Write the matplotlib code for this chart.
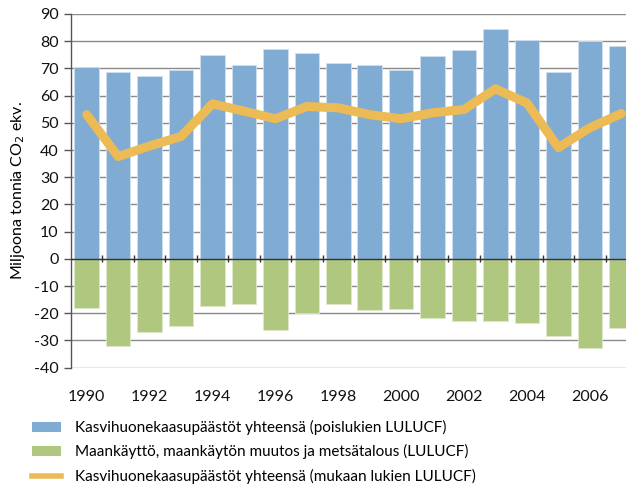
import matplotlib
matplotlib.use("Agg")
import matplotlib.pyplot as plt
import numpy as np
from matplotlib.patches import Patch
from matplotlib.lines import Line2D

years = list(range(1990, 2008))
emissions_excl = [70.7, 68.7, 67.3, 69.3, 74.8, 71.3, 77.2, 75.6, 72.0, 71.2,
                  69.5, 74.6, 76.8, 84.5, 80.5, 68.7, 79.9, 78.4]
lulucf = [-18.0, -32.1, -26.8, -24.5, -17.5, -16.7, -26.1, -19.8, -16.7, -18.8,
          -18.5, -21.7, -22.9, -22.9, -23.5, -28.5, -32.6, -25.4]
emissions_incl = [53.0, 37.6, 41.5, 45.0, 57.0, 54.3, 51.5, 56.0, 55.5, 53.0,
                  51.5, 53.7, 54.9, 62.5, 57.3, 40.9, 48.2, 53.4]
yticks = list(range(-40, 100, 10))
xtick_years = list(range(1990, 2007, 2))
labels = ["Kasvihuonekaasupäästöt yhteensä (poislukien LULUCF)",
          "Maankäyttö, maankäytön muutos ja metsätalous (LULUCF)",
          "Kasvihuonekaasupäästöt yhteensä (mukaan lukien LULUCF)"]

blue = "#80ABD3"
green = "#AFC77E"
yellow = "#ECBB55"

plt.rcParams['font.family'] = ['Lato', 'DejaVu Sans']
fig = plt.figure(figsize=(6.26, 4.84), dpi=100)
ax = fig.add_axes([71/626, 1 - 367.7/484, (637-71)/626, (367.7-14)/484])

x = np.arange(len(years))
ax.set_axisbelow(True)
ax.yaxis.grid(True, color="#8a8a8a", linewidth=1.0)
ax.bar(x, emissions_excl, width=0.78, color=blue, edgecolor="#cfe0f0", linewidth=0.6, zorder=2)
ax.bar(x, lulucf, width=0.78, color=green, edgecolor="#dde8c8", linewidth=0.6, zorder=2)
ax.axhline(0, color="#333333", linewidth=1.0, zorder=3)
ax.vlines(x[1:] - 0.5, -1.3, 1.3, color="#333333", linewidth=1.0, zorder=3)
ax.plot(x, emissions_incl, color=yellow, linewidth=6.5, solid_capstyle="round",
        solid_joinstyle="round", zorder=4)

ax.set_xlim(-0.5, len(years) - 0.5)
ax.set_ylim(-40, 90)
ax.set_yticks(yticks)
ax.set_yticklabels([str(v) for v in yticks])
ax.set_xticks([years.index(y) for y in xtick_years])
ax.set_xticklabels([str(y) for y in xtick_years])
ax.tick_params(axis="x", length=0, pad=16, labelsize=11.5, colors="#111111")
ax.tick_params(axis="y", length=5, width=1, color="#555555", pad=4, labelsize=11.5, colors="#111111")
for s in ["top", "right", "bottom"]:
    ax.spines[s].set_visible(False)
ax.spines["left"].set_color("#555555")
ax.spines["left"].set_linewidth(1.0)
ax.set_ylabel("Miljoona tonnia CO$_2$ ekv.", fontsize=11.5, labelpad=5)

handles = [Patch(facecolor=blue, edgecolor="none"),
           Patch(facecolor=green, edgecolor="none"),
           Line2D([0], [0], color=yellow, linewidth=4)]
fig.legend(handles, labels, loc="upper left", bbox_to_anchor=(26/626, 1 - 414/484),
           frameon=False, fontsize=11, handlelength=1.9, handleheight=0.6,
           labelspacing=0.6, handletextpad=0.9, borderaxespad=0)

fig.savefig("out.png", dpi=100)
